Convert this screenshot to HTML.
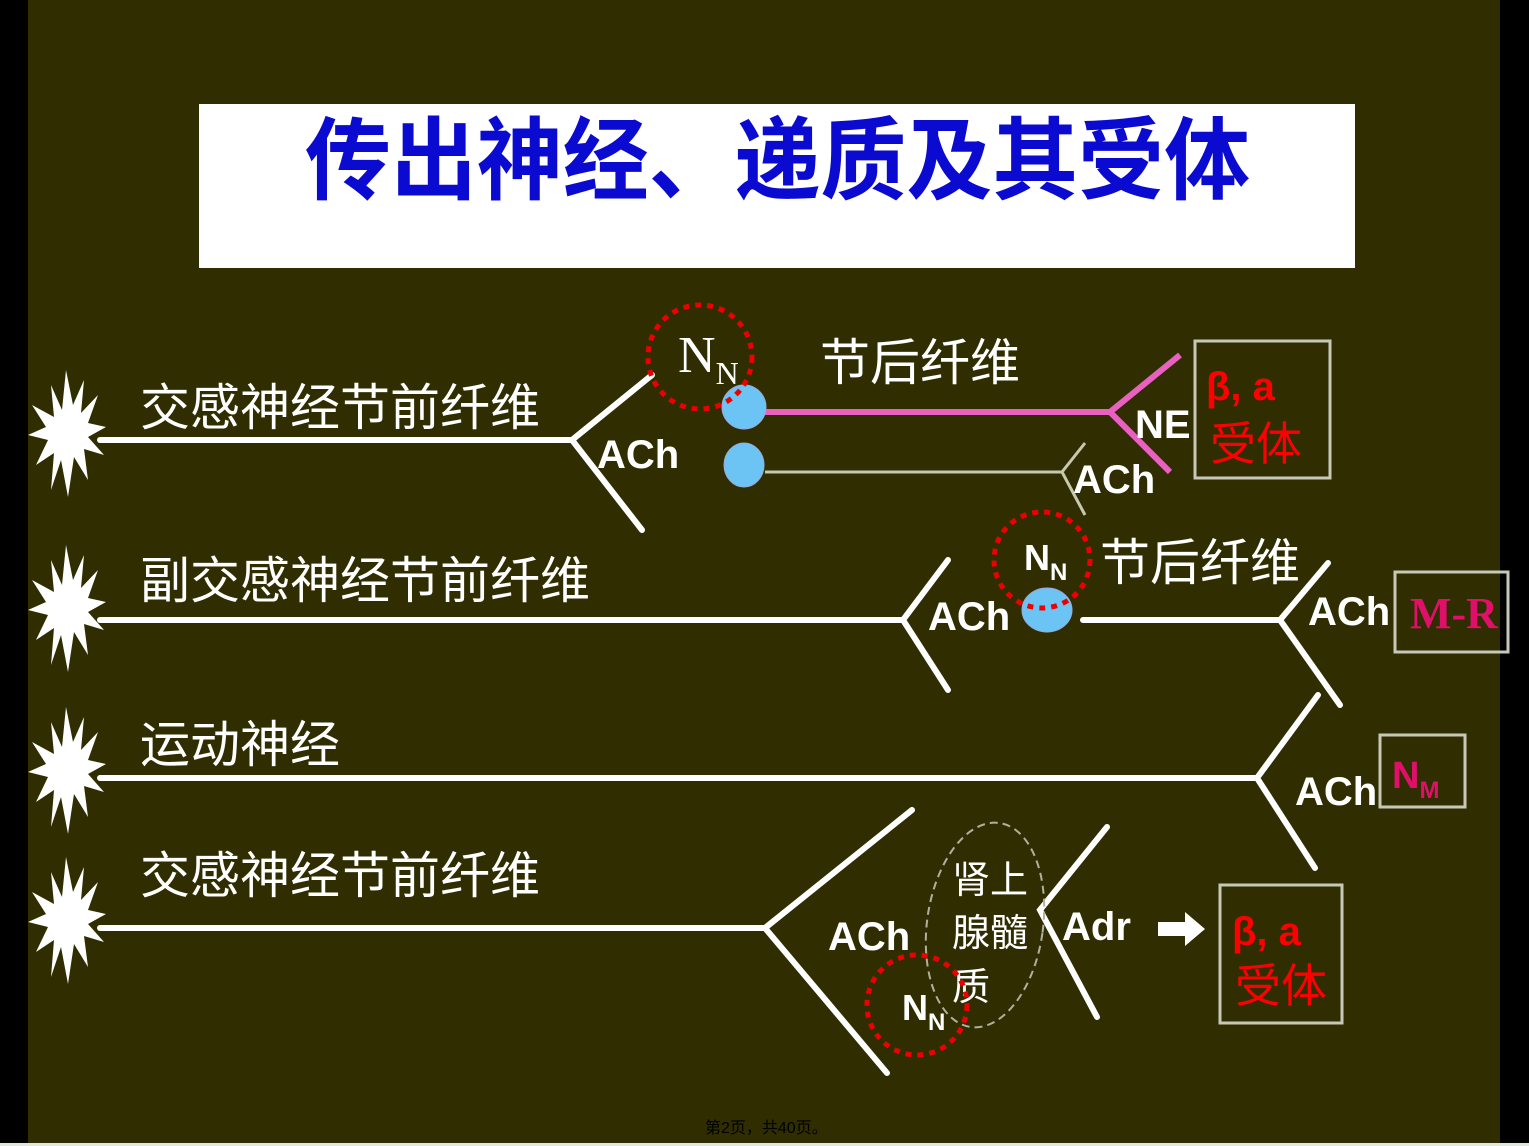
<!DOCTYPE html>
<html><head><meta charset="utf-8"><style>
html,body{margin:0;padding:0;background:#000;}
svg{display:block;}
</style></head><body>
<svg width="1529" height="1146" viewBox="0 0 1529 1146" xmlns="http://www.w3.org/2000/svg" font-family="'Liberation Sans','Noto Sans CJK SC',sans-serif">
<rect x="0" y="0" width="1529" height="1146" fill="#000"/>
<rect x="28" y="0" width="1472" height="1143" fill="#302e00"/>
<rect x="0" y="1143" width="1529" height="3" fill="#dfe8df"/>
<rect x="199" y="104" width="1156" height="164" fill="#fff"/>
<text x="305" y="192" textLength="945" lengthAdjust="spacingAndGlyphs" font-size="90" font-weight="bold" fill="#0a0ad0" font-family="'Liberation Sans','Noto Sans CJK SC',sans-serif">传出神经、递质及其受体</text>

<defs>
<polygon id="star" fill="#fff" points="0,-65 7,-30 18,-55 15,-22 32,-40 22,-12 40,-8 22,2 38,20 18,14 22,45 8,22 2,62 -5,25 -15,55 -12,18 -30,30 -18,5 -38,0 -20,-8 -34,-30 -12,-18 -15,-50 -4,-25"/>
</defs>
<use href="#star" x="66" y="435"/>
<use href="#star" x="66" y="610"/>
<use href="#star" x="66" y="772"/>
<use href="#star" x="66" y="922"/>

<g fill="#fff" font-size="50">
<text x="140" y="425">交感神经节前纤维</text>
<text x="140" y="598">副交感神经节前纤维</text>
<text x="140" y="762">运动神经</text>
<text x="140" y="893">交感神经节前纤维</text>
<text x="820" y="380">节后纤维</text>
<text x="1100" y="580">节后纤维</text>
</g>

<g stroke="#fff" stroke-width="6" fill="none" stroke-linecap="round" stroke-linejoin="miter">
<polyline points="100,440 572,440"/>
<polyline points="652,375 572,440 642,530"/>
<polyline points="100,620 903,620"/>
<polyline points="948,560 903,620 948,690"/>
<polyline points="1083,620 1280,620"/>
<polyline points="1328,563 1280,620 1340,705"/>
<polyline points="100,778 1257,778"/>
<polyline points="1318,695 1257,778 1315,868"/>
<polyline points="100,928 765,928"/>
<polyline points="912,810 765,928 887,1073"/>
<polyline points="1107,827 1040,910 1097,1017"/>
</g>
<polyline points="765,472 1062,472" stroke="#c8c8b0" stroke-width="3" fill="none"/>
<polyline points="1085,443 1062,472 1085,515" stroke="#c8c8b0" stroke-width="3" fill="none"/>
<g stroke="#e860c0" stroke-width="6" fill="none">
<polyline points="765,412 1110,412"/>
<polyline points="1180,355 1110,412 1170,472"/>
</g>
<polygon points="1158,922 1185,922 1185,912 1205,929 1185,946 1185,936 1158,936" fill="#fff"/>

<g fill="#6cc4f4" stroke="#9ad" stroke-width="1">
<ellipse cx="744" cy="407" rx="22" ry="22"/>
<ellipse cx="744" cy="465" rx="20" ry="22"/>
<ellipse cx="1047" cy="610" rx="25" ry="22"/>
</g>

<g fill="#fff" font-weight="bold" font-size="40">
<text x="597" y="468">ACh</text>
<text x="1073" y="493">ACh</text>
<text x="1135" y="438">NE</text>
<text x="928" y="630">ACh</text>
<text x="1308" y="625">ACh</text>
<text x="1295" y="805">ACh</text>
<text x="828" y="950">ACh</text>
<text x="1062" y="940">Adr</text>
</g>
<text x="678" y="372" fill="#fff" font-size="52" font-family="'Liberation Serif',serif">N<tspan font-size="32" dy="12">N</tspan></text>
<text x="1024" y="570" fill="#fff" font-weight="bold" font-size="36">N<tspan font-size="24" dy="10">N</tspan></text>
<text x="902" y="1020" fill="#fff" font-weight="bold" font-size="36">N<tspan font-size="24" dy="10">N</tspan></text>

<ellipse cx="985" cy="925" rx="58" ry="103" fill="none" stroke="#b0b0a0" stroke-width="2" stroke-dasharray="8,5" transform="rotate(8 985 925)"/>
<g fill="#fff" font-size="38">
<text x="952" y="893">肾上</text>
<text x="952" y="946">腺髓</text>
<text x="952" y="1000">质</text>
</g>

<g fill="none" stroke="#e00" stroke-width="5" stroke-dasharray="6,6">
<circle cx="700" cy="357" r="52"/>
<circle cx="1042" cy="560" r="48"/>
<circle cx="917" cy="1005" r="50"/>
</g>

<g fill="none" stroke="#c8c8b8" stroke-width="3">
<rect x="1195" y="341" width="135" height="137"/>
<rect x="1395" y="572" width="113" height="80"/>
<rect x="1380" y="735" width="85" height="72"/>
<rect x="1220" y="885" width="122" height="138"/>
</g>
<g fill="#f00" font-weight="bold">
<text x="1206" y="400" font-size="40">β, a</text>
<text x="1210" y="460" font-size="46" font-weight="normal">受体</text>
<text x="1232" y="945" font-size="40">β, a</text>
<text x="1235" y="1002" font-size="46" font-weight="normal">受体</text>
</g>
<text x="1410" y="628" fill="#e0106a" font-size="44" font-weight="bold" font-family="'Liberation Serif',serif">M-R</text>
<text x="1392" y="788" fill="#e0106a" font-size="38" font-weight="bold">N<tspan font-size="24" dy="10">M</tspan></text>

<text x="705" y="1133" fill="#000" font-size="16">第2页，共40页。</text>
</svg>
</body></html>
